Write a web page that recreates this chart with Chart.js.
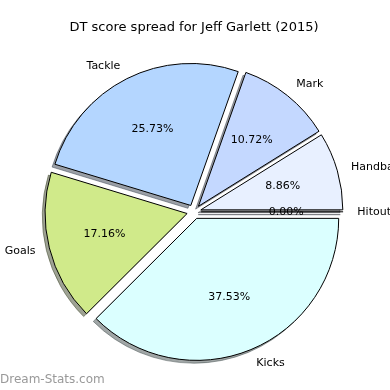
<!DOCTYPE html>
<html>
<head>
<meta charset="utf-8">
<script src="https://cdn.jsdelivr.net/npm/chart.js@4"></script>
<style>
  html, body { margin: 0; padding: 0; background: #fff; }
  #wrap { width: 390px; height: 390px; }
</style>
</head>
<body>
<div id="wrap"><canvas id="chart" width="390" height="390"></canvas></div>
<script>
// matplotlib order: counterclockwise from 3 o'clock
const categories = ['Hitouts', 'Handball', 'Mark', 'Tackle', 'Goals', 'Kicks'];
const shares = [0.00, 8.86, 10.72, 25.73, 17.16, 37.53];
const sliceColors = ['#e8f0ff', '#e8f0ff', '#c4d8ff', '#b4d6ff', '#d0ea8a', '#dbffff'];
const chartTitle = 'DT score spread for Jeff Garlett (2015)';
const watermark = 'Dream-Stats.com';

const explode = 0.05;   // fraction of radius
const FONT = 'DejaVu Sans';

// Chart.js draws clockwise, so reverse to get the same layout
const labels = categories.slice().reverse();
const values = shares.slice().reverse();
const colors = sliceColors.slice().reverse();

function shadowOf(hex) {
  const n = parseInt(hex.slice(1), 16);
  const r = Math.round(((n >> 16) & 255) * 0.3);
  const g = Math.round(((n >> 8) & 255) * 0.3);
  const b = Math.round((n & 255) * 0.3);
  return `rgba(${r}, ${g}, ${b}, 0.5)`;
}

const piePlugin = {
  id: 'mplPie',
  beforeDatasetsDraw(chart) {
    const meta = chart.getDatasetMeta(0);
    const a = chart.chartArea;
    const cx = (a.left + a.right) / 2;
    const cy = (a.top + a.bottom) / 2;
    const ctx = chart.ctx;
    // explode each wedge away from the centre
    meta.data.forEach(arc => {
      const r = arc.outerRadius;
      const mid = (arc.startAngle + arc.endAngle) / 2;
      arc.x = cx + explode * r * Math.cos(mid);
      arc.y = cy + explode * r * Math.sin(mid);
    });
    // shadows, offset down-left
    ctx.save();
    meta.data.forEach((arc, i) => {
      const r = arc.outerRadius;
      const sx = arc.x - 0.02 * r;
      const sy = arc.y + 0.02 * r;
      const col = shadowOf(colors[i]);
      ctx.beginPath();
      ctx.moveTo(sx, sy);
      ctx.arc(sx, sy, r, arc.startAngle, arc.endAngle);
      ctx.closePath();
      ctx.fillStyle = col;
      ctx.fill();
      ctx.strokeStyle = col;
      ctx.lineWidth = 1;
      ctx.stroke();
    });
    ctx.restore();
  },
  afterDatasetsDraw(chart) {
    const meta = chart.getDatasetMeta(0);
    const ctx = chart.ctx;
    ctx.save();
    meta.data.forEach((arc, i) => {
      const r = arc.outerRadius;
      const mid = (arc.startAngle + arc.endAngle) / 2;
      const c = Math.cos(mid), s = Math.sin(mid);
      // zero-size wedge still shows its edge
      if (arc.endAngle - arc.startAngle === 0) {
        ctx.beginPath();
        ctx.moveTo(arc.x, arc.y);
        ctx.lineTo(arc.x + r * c, arc.y + r * s);
        ctx.strokeStyle = '#000';
        ctx.lineWidth = 1;
        ctx.stroke();
      }
      ctx.fillStyle = '#000';
      ctx.font = `11px "${FONT}"`;
      ctx.textBaseline = 'middle';
      ctx.textAlign = c > 0 ? 'left' : 'right';
      ctx.fillText(labels[i], arc.x + 1.1 * r * c, arc.y + 1.1 * r * s);
      ctx.textAlign = 'center';
      ctx.fillText(values[i].toFixed(2) + '%', arc.x + 0.6 * r * c, arc.y + 0.6 * r * s);
    });
    ctx.restore();
  },
  afterDraw(chart) {
    const ctx = chart.ctx;
    ctx.save();
    ctx.font = `12px "${FONT}"`;
    ctx.fillStyle = '#999';
    ctx.textAlign = 'left';
    ctx.textBaseline = 'middle';
    ctx.fillText(watermark, 0, 380);
    ctx.restore();
  }
};

new Chart(document.getElementById('chart'), {
  type: 'pie',
  data: {
    labels: labels,
    datasets: [{
      data: values,
      backgroundColor: colors,
      borderColor: '#000',
      borderWidth: 1,
    }]
  },
  options: {
    responsive: false,
    animation: false,
    rotation: 90,
    radius: 142,
    layout: { padding: { left: 0, right: 2, top: 0, bottom: 10 } },
    plugins: {
      legend: { display: false },
      tooltip: { enabled: false },
      title: {
        display: true,
        text: chartTitle,
        color: '#000',
        font: { family: FONT, size: 13, weight: 'normal' },
        padding: { top: 20, bottom: 8 }
      }
    }
  },
  plugins: [piePlugin]
});
</script>
</body>
</html>
